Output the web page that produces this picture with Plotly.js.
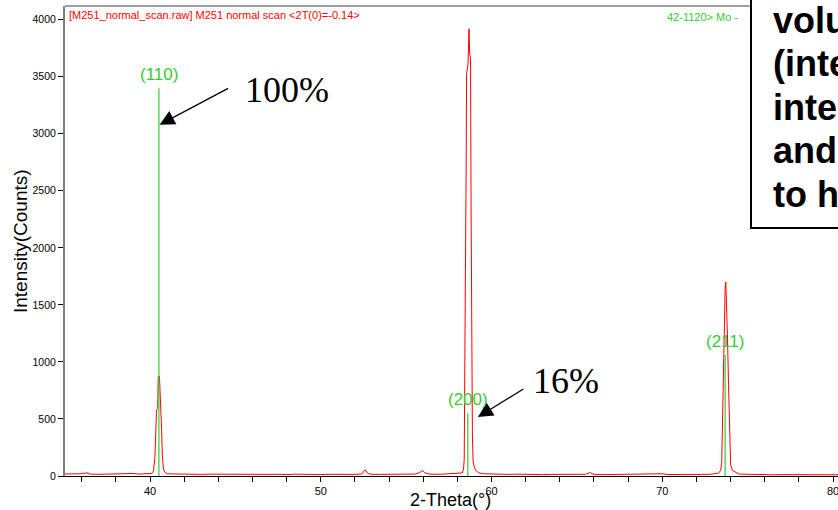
<!DOCTYPE html>
<html>
<head>
<meta charset="utf-8">
<script src="https://cdn.plot.ly/plotly-3.0.1.min.js"></script>
<style>html,body{margin:0;padding:0;background:#fff;}#chart{width:838px;height:510px;}</style>
</head>
<body>
<div id="chart"></div>
<script>
// ---- scan data (2-Theta in degrees, intensity in counts) ----
const twoTheta = [
  35.0, 35.5, 36.0, 36.3, 36.5, 37.0, 37.5, 38.0, 38.5, 39.0, 39.3, 39.7, 40.0,
  40.10, 40.20, 40.28, 40.33, 40.38, 40.45, 40.48, 40.55, 40.60, 40.64, 40.68, 40.72, 40.78, 40.85, 40.95,
  41.0, 41.5, 42.0, 42.5, 43.0, 43.5, 44.0, 44.5, 45.0, 45.5, 46.0, 46.5, 47.0, 47.5, 48.0, 48.5,
  49.0, 49.5, 50.0, 50.5, 51.0, 51.5, 52.0, 52.4, 52.6, 52.75, 53.0, 53.5, 54.0, 54.5, 55.0, 55.5,
  55.8, 55.95, 56.1, 56.4, 57.0, 57.5, 58.0, 58.2,
  58.30, 58.36, 58.40, 58.43, 58.47, 58.51, 58.54, 58.62, 58.68, 58.72, 58.77, 58.80, 58.84, 58.88,
  58.92, 59.00, 59.10, 59.25,
  59.5, 60.0, 60.5, 61.0, 61.5, 62.0, 62.5, 63.0, 63.5, 64.0, 64.5, 65.0, 65.5, 65.75, 66.0, 66.5,
  67.0, 67.5, 68.0, 68.5, 69.0, 69.5, 70.0, 70.3, 70.8, 71.3, 71.8, 72.3, 72.8, 73.1,
  73.30, 73.42, 73.48, 73.53, 73.58, 73.63, 73.68, 73.72, 73.76, 73.82, 73.88, 73.94, 74.00, 74.10,
  74.30, 74.45,
  74.6, 75.0, 75.5, 76.0, 76.5, 77.0, 77.5, 78.0, 78.5, 79.0, 79.5, 80.0, 80.3
];
const counts = [
  18, 16, 20, 28, 17, 15, 18, 16, 19, 22, 17, 20, 24,
  22, 45, 150, 350, 580, 590, 870, 875, 700, 690, 400, 180, 70, 35, 22,
  20, 18, 15, 17, 14, 16, 15, 17, 14, 18, 13, 16, 14, 15, 12, 16,
  14, 17, 13, 15, 14, 16, 14, 18, 55, 22, 15, 14, 16, 13, 15, 17,
  30, 48, 28, 16, 15, 18, 22, 26,
  30, 60, 150, 600, 1800, 2630, 3530, 3600, 3920, 3700, 3660, 2400, 1100, 350,
  130, 70, 45, 28,
  20, 17, 15, 14, 16, 13, 14, 12, 14, 13, 14, 13, 15, 30, 14, 12,
  13, 12, 14, 12, 13, 14, 20, 13, 12, 13, 12, 14, 15, 20,
  25, 50, 120, 500, 1000, 1400, 1650, 1700, 1550, 1200, 800, 400, 100, 50,
  30, 20,
  16, 14, 12, 13, 11, 12, 11, 12, 10, 12, 11, 12, 11
];

// ---- reference pattern sticks (42-1120 Mo) ----
const refPos = [40.52, 58.61, 73.68];
const refInt = [3400, 550, 1060];
const refLabels = ['(110)', '(200)', '(211)'];

// ---- x axis tick values ----
const xMajorTicks = [40, 50, 60, 70, 80];
const xMinorTicks = [36, 38, 42, 44, 46, 48, 52, 54, 56, 58, 62, 64, 66, 68, 72, 74, 76, 78];

// ---- annotation texts ----
const scanTitle = '[M251_normal_scan.raw] M251 normal scan <2T(0)=-0.14>';
const refTitle = '42-1120> Mo -';
const pctLabels = ['100%', '16%'];
const boxLines = ['volu', '(inte', 'inte', 'and', 'to h'];
const xTitle = '2-Theta(°)';
const yTitle = 'Intensity(Counts)';

const SANS = 'Liberation Sans, Arial, sans-serif';
const SERIF = 'Liberation Serif, Times New Roman, serif';
const GREEN = '#33cc33';

// stick traces built from the reference arrays
const stickX = [], stickY = [];
refPos.forEach((p, i) => { stickX.push(p, p, null); stickY.push(0, refInt[i], null); });

const traces = [
  { x: twoTheta, y: counts, type: 'scatter', mode: 'lines',
    line: { color: '#ff0000', width: 1 }, hoverinfo: 'skip' },
  { x: stickX, y: stickY, type: 'scatter', mode: 'lines',
    line: { color: GREEN, width: 1.2 }, hoverinfo: 'skip' }
];

// plot geometry helpers (pixel -> paper)
const L = 65, T = 6, W = 773, H = 470;
const px = v => (v - L) / W;
const py = v => (T + H - v) / H;

const annotations = [
  { xref: 'paper', yref: 'paper', x: px(67), y: py(15), xanchor: 'left', yanchor: 'middle',
    text: scanTitle, showarrow: false, font: { family: SANS, size: 11, color: '#ff0000' } },
  { xref: 'paper', yref: 'paper', x: px(665), y: py(17), xanchor: 'left', yanchor: 'middle',
    text: refTitle, showarrow: false, font: { family: SANS, size: 11, color: GREEN } },
  // arrows
  { xref: 'x', yref: 'y', x: 40.56, y: 3080, ax: 70, ay: -37, text: '', showarrow: true,
    arrowhead: 2, arrowsize: 2.3, arrowwidth: 1.3, arrowcolor: '#000' },
  { xref: 'x', yref: 'y', x: 59.2, y: 517, ax: 47, ay: -29, text: '', showarrow: true,
    arrowhead: 2, arrowsize: 2.3, arrowwidth: 1.3, arrowcolor: '#000' },
  { xref: 'paper', yref: 'paper', x: px(243), y: py(90), xanchor: 'left', yanchor: 'middle',
    text: pctLabels[0], showarrow: false, font: { family: SERIF, size: 36, color: '#000' } },
  { xref: 'paper', yref: 'paper', x: px(531), y: py(381), xanchor: 'left', yanchor: 'middle',
    text: pctLabels[1], showarrow: false, font: { family: SERIF, size: 36, color: '#000' } },
  // axis titles
  { xref: 'paper', yref: 'paper', x: px(450), y: py(499.5), xanchor: 'center', yanchor: 'middle',
    text: xTitle, showarrow: false, font: { family: SANS, size: 18, color: '#000' } },
  { xref: 'paper', yref: 'paper', x: px(20), y: py(241), xanchor: 'center', yanchor: 'middle',
    text: yTitle, textangle: -90, showarrow: false, font: { family: SANS, size: 19, color: '#000' } }
];
refLabels.forEach((lab, i) => annotations.push({
  xref: 'x', yref: 'y', x: refPos[i], y: refInt[i], xanchor: 'center', yanchor: 'bottom', yshift: 2,
  text: lab, showarrow: false, font: { family: SANS, size: 17, color: GREEN }
}));
const lineCenters = [21, 64, 107.5, 151, 194.5];
boxLines.forEach((t, i) => annotations.push({
  xref: 'paper', yref: 'paper', x: px(771), y: py(lineCenters[i]), xanchor: 'left', yanchor: 'middle',
  text: '<b>' + t + '</b>', showarrow: false, font: { family: SANS, size: 36, color: '#000' }
}));

const layout = {
  width: 838, height: 510,
  margin: { l: L, r: 0, t: T, b: 510 - T - H, pad: 0 },
  paper_bgcolor: '#fff', plot_bgcolor: '#fff',
  showlegend: false,
  font: { family: SANS, size: 11, color: '#000' },
  xaxis: {
    range: [35.02, 80.29], showgrid: false, zeroline: false,
    showline: true, linecolor: '#000', linewidth: 1,
    tickmode: 'array', tickvals: xMajorTicks, ticktext: xMajorTicks.map(String),
    ticks: 'outside', ticklen: 5, tickcolor: '#000', tickwidth: 1,
    ticklabeloverflow: 'allow',
    tickfont: { family: SANS, size: 11, color: '#000' },
    minor: { tickmode: 'array', tickvals: xMinorTicks, ticks: 'outside', ticklen: 5,
             tickcolor: '#000', tickwidth: 1, showgrid: false }
  },
  yaxis: {
    range: [0, 4120], showgrid: false, zeroline: false,
    showline: true, linecolor: '#7f7f7f', linewidth: 2,
    tickmode: 'linear', tick0: 0, dtick: 500, ticks: 'outside', ticklen: 5, tickcolor: '#000', tickwidth: 1,
    tickfont: { family: SANS, size: 10.5, color: '#000' }
  },
  shapes: [
    { type: 'line', xref: 'paper', yref: 'paper', x0: 0, x1: 1, y0: 1, y1: 1,
      line: { color: '#404040', width: 1 } },
    { type: 'rect', xref: 'paper', yref: 'paper', x0: px(751), x1: px(900), y0: py(228), y1: py(-20),
      line: { color: '#000', width: 2 }, fillcolor: '#fff', layer: 'above' }
  ],
  annotations: annotations
};

Plotly.newPlot('chart', traces, layout, { staticPlot: true, displayModeBar: false });
</script>
</body>
</html>
